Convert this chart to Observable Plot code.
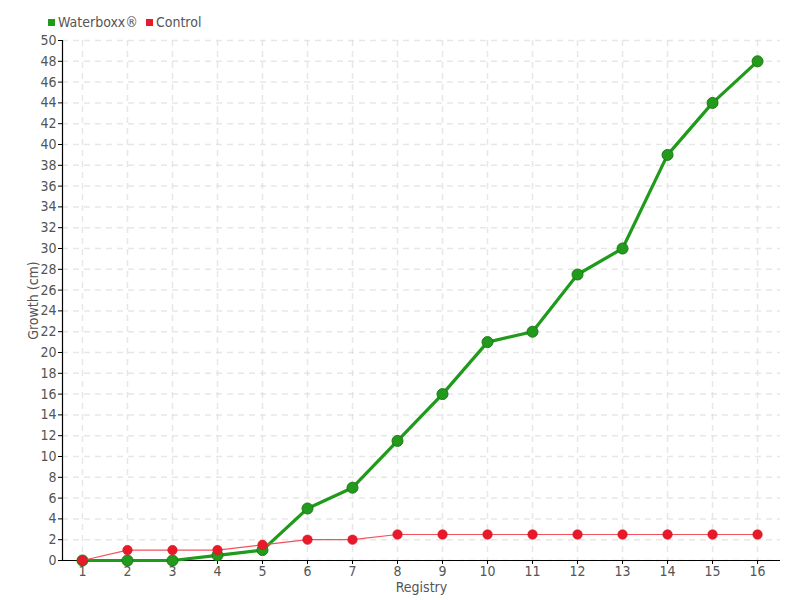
<!DOCTYPE html>
<html><head><meta charset="utf-8">
<script src="https://cdn.jsdelivr.net/npm/d3@7"></script>
<script src="https://cdn.jsdelivr.net/npm/@observablehq/plot@0.6"></script>
<style>
body{margin:0;background:#fff;font-family:"DejaVu Sans Condensed","DejaVu Sans",sans-serif;font-stretch:condensed;}
#legend{height:30px;display:flex;align-items:center;padding-left:48px;padding-top:14px;box-sizing:border-box;font-size:14px;color:#555;}
#legend span.sw{display:inline-block;width:7px;height:7px;margin-right:3px;}
#legend span.it{margin-right:8px;display:flex;align-items:center;}
svg text{font-stretch:condensed;}
</style></head>
<body>
<div id="legend">
<span class="it"><span class="sw" style="background:#1f9a1a"></span>Waterboxx®</span>
<span class="it"><span class="sw" style="background:#e81a2a"></span>Control</span>
</div>
<div id="chart"></div>
<script>
const registry = [1,2,3,4,5,6,7,8,9,10,11,12,13,14,15,16];
const waterboxx = [0,0,0,0.5,1,5,7,11.5,16,21,22,27.5,30,39,44,48];
const control = [0,1,1,1,1.5,2,2,2.5,2.5,2.5,2.5,2.5,2.5,2.5,2.5,2.5];
const yTicks = d3.range(0, 51, 2);

const wData = registry.map((r,i)=>({x:r,y:waterboxx[i]}));
const cData = registry.map((r,i)=>({x:r,y:control[i]}));
const xMin = 0.556, xMax = 16.51;

const chart = Plot.plot({
  width: 800, height: 570,
  marginLeft: 62, marginRight: 20, marginTop: 10, marginBottom: 40,
  style: {fontFamily: '"DejaVu Sans Condensed","DejaVu Sans",sans-serif', fontSize: "14px", color: "#555", background: "#fff"},
  x: {domain: [xMin, xMax]},
  y: {domain: [0, 50]},
  marks: [
    Plot.gridX(registry, {stroke: "#ddd", strokeOpacity: 0.7, strokeWidth: 1.5, strokeDasharray: "6,5"}),
    Plot.gridY(yTicks, {stroke: "#ddd", strokeOpacity: 0.7, strokeWidth: 1.5, strokeDasharray: "6,5"}),
    Plot.axisX(registry, {tickSize: 4, tickPadding: 2, label: "Registry", labelAnchor: "center", labelArrow: "none", labelOffset: 31, fontSize: 14, stroke: "#000"}),
    Plot.axisY(yTicks, {tickSize: 4, tickPadding: 2, label: "Growth (cm)", labelAnchor: "center", labelArrow: "none", labelOffset: 34, fontSize: 14, stroke: "#000"}),
    Plot.ruleY([0], {stroke: "#000", strokeWidth: 1.2}),
    Plot.ruleX([xMin], {stroke: "#000", strokeWidth: 1.2}),
    Plot.line(wData, {x: "x", y: "y", stroke: "#1f9a1a", strokeWidth: 3.2}),
    Plot.dot(wData, {x: "x", y: "y", r: 5.5, fill: "#229a1c", stroke: "#1a7a14", strokeWidth: 1}),
    Plot.line(cData, {x: "x", y: "y", stroke: "#f2505e", strokeWidth: 1.2}),
    Plot.dot(cData, {x: "x", y: "y", r: 4.8, fill: "#e81a2a", stroke: "#d01424", strokeWidth: 0.5})
  ]
});
document.getElementById("chart").appendChild(chart);
</script>
</body></html>
